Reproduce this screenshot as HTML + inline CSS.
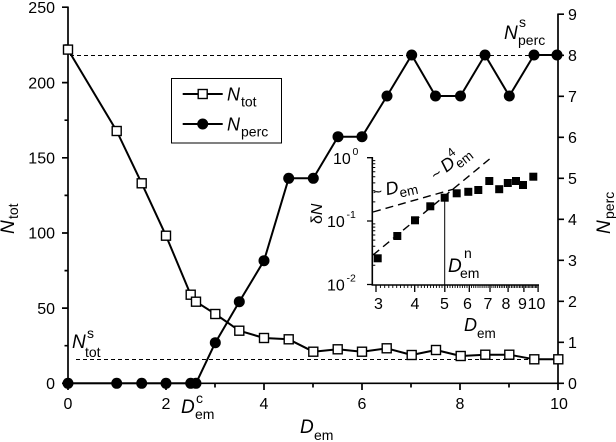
<!DOCTYPE html>
<html><head><meta charset="utf-8"><style>
html,body{margin:0;padding:0;background:#fff;}
svg{display:block;}
text{font-family:"Liberation Sans",Arial,sans-serif;fill:#000;}
.t{font-size:16px;}
.it{font-style:italic;}
</style></head><body>
<svg width="616" height="442" viewBox="0 0 616 442" xmlns="http://www.w3.org/2000/svg">
<rect width="616" height="442" fill="#fff"/>

<!-- dashed saturation lines -->
<line x1="70" y1="55.5" x2="558" y2="55.5" stroke="#000" stroke-width="1.1" stroke-dasharray="4,3"/>
<line x1="76" y1="359.5" x2="558" y2="359.5" stroke="#000" stroke-width="1.1" stroke-dasharray="4,3"/>

<!-- axes -->
<g stroke="#000" stroke-width="1.7" fill="none">
<line x1="68" y1="6.5" x2="68" y2="384"/>
<line x1="67.2" y1="383.3" x2="558.8" y2="383.3"/>
<line x1="558" y1="13.5" x2="558" y2="384"/>
<!-- left ticks -->
<path d="M62,383.3H68M62,308.1H68M62,233H68M62,157.8H68M62,82.6H68M62,7.2H68"/>
<path d="M64.5,345.7H68M64.5,270.6H68M64.5,195.4H68M64.5,120.2H68M64.5,45.1H68"/>
<!-- bottom ticks -->
<path d="M68,383.3V390M166,383.3V390M264,383.3V390M362,383.3V390M460,383.3V390M558,383.3V390"/>
<path d="M117,383.3V387.5M215,383.3V387.5M313,383.3V387.5M411,383.3V387.5M509,383.3V387.5"/>
<!-- right ticks -->
<path d="M558,383.3H564M558,342.3H564M558,301.3H564M558,260.3H564M558,219.3H564M558,178.3H564M558,137.3H564M558,96.3H564M558,55.3H564M558,14.2H564"/>
</g>

<!-- left tick labels -->
<g class="t" text-anchor="end">
<text x="55" y="389">0</text>
<text x="55" y="313.8">50</text>
<text x="55" y="238.7">100</text>
<text x="55" y="163.5">150</text>
<text x="55" y="88.3">200</text>
<text x="55" y="13">250</text>
</g>
<!-- bottom tick labels -->
<g class="t" text-anchor="middle">
<text x="68" y="409">0</text>
<text x="166" y="409">2</text>
<text x="264" y="409">4</text>
<text x="362" y="409">6</text>
<text x="460" y="409">8</text>
<text x="559" y="409">10</text>
</g>
<!-- right tick labels -->
<g class="t">
<text x="568" y="389">0</text>
<text x="568" y="348">1</text>
<text x="568" y="307">2</text>
<text x="568" y="266">3</text>
<text x="568" y="225">4</text>
<text x="568" y="184">5</text>
<text x="568" y="143">6</text>
<text x="568" y="102">7</text>
<text x="568" y="61">8</text>
<text x="568" y="20">9</text>
</g>

<!-- axis titles -->
<text x="300" y="433" font-size="19" class="it">D</text>
<text x="314" y="440" font-size="14">em</text>

<g transform="translate(14,234) rotate(-90)">
<text x="0" y="0" font-size="19" class="it">N</text>
<text x="15" y="4" font-size="14">tot</text>
</g>
<g transform="translate(610,234) rotate(-90)">
<text x="0" y="0" font-size="19" class="it">N</text>
<text x="15" y="4" font-size="14">perc</text>
</g>

<!-- series lines -->
<path d="M68,49.6 L116.7,131 L141.7,183.3 L166,235.7 L190.7,294.7 L196,301.7 L215.3,314 L239.3,330.7 L264,338 L288.7,339.3 L313.3,351.7 L337.7,349.3 L362,351.7 L386.7,348.3 L411.7,355 L436,350 L460.7,356 L485.3,354.7 L509.3,354.7 L534.3,359.3 L558.3,359.3" fill="none" stroke="#000" stroke-width="2" stroke-linejoin="round"/>
<path d="M68,383.3 L196,383.3 L215.3,342.7 L239.3,301.7 L264,260.7 L288.7,178.3 L313.3,178.3 L338,136.7 L362,136.7 L387,96 L411.7,55 L435.5,96 L460.5,96 L485,55 L509.3,96 L534,55 L557,55" fill="none" stroke="#000" stroke-width="2" stroke-linejoin="round"/>

<!-- open squares -->
<g fill="#fff" stroke="#000" stroke-width="1.4">
<rect x="63.5" y="45.1" width="9" height="9"/>
<rect x="112.2" y="126.5" width="9" height="9"/>
<rect x="137.2" y="178.8" width="9" height="9"/>
<rect x="161.5" y="231.2" width="9" height="9"/>
<rect x="186.2" y="290.2" width="9" height="9"/>
<rect x="191.5" y="297.2" width="9" height="9"/>
<rect x="210.8" y="309.5" width="9" height="9"/>
<rect x="234.8" y="326.2" width="9" height="9"/>
<rect x="259.5" y="333.5" width="9" height="9"/>
<rect x="284.2" y="334.8" width="9" height="9"/>
<rect x="308.8" y="347.2" width="9" height="9"/>
<rect x="333.2" y="344.8" width="9" height="9"/>
<rect x="357.5" y="347.2" width="9" height="9"/>
<rect x="382.2" y="343.8" width="9" height="9"/>
<rect x="407.2" y="350.5" width="9" height="9"/>
<rect x="431.5" y="345.5" width="9" height="9"/>
<rect x="456.2" y="351.5" width="9" height="9"/>
<rect x="480.8" y="350.2" width="9" height="9"/>
<rect x="504.8" y="350.2" width="9" height="9"/>
<rect x="529.8" y="354.8" width="9" height="9"/>
<rect x="553.8" y="354.8" width="9" height="9"/>
</g>

<!-- filled circles -->
<g fill="#000">
<circle cx="68" cy="383.3" r="5.5"/>
<circle cx="116.7" cy="383.3" r="5.5"/>
<circle cx="141.7" cy="383.3" r="5.5"/>
<circle cx="166" cy="383.3" r="5.5"/>
<circle cx="190.7" cy="383.3" r="5.5"/>
<circle cx="196" cy="383.3" r="5.5"/>
<circle cx="215.3" cy="342.7" r="5.5"/>
<circle cx="239.3" cy="301.7" r="5.5"/>
<circle cx="264" cy="260.7" r="5.5"/>
<circle cx="288.7" cy="178.3" r="5.5"/>
<circle cx="313.3" cy="178.3" r="5.5"/>
<circle cx="338" cy="136.7" r="5.5"/>
<circle cx="362" cy="136.7" r="5.5"/>
<circle cx="387" cy="96" r="5.5"/>
<circle cx="411.7" cy="55" r="5.5"/>
<circle cx="435.5" cy="96" r="5.5"/>
<circle cx="460.5" cy="96" r="5.5"/>
<circle cx="485" cy="55" r="5.5"/>
<circle cx="509.3" cy="96" r="5.5"/>
<circle cx="534" cy="55" r="5.5"/>
<circle cx="557" cy="55" r="5.5"/>
</g>

<!-- legend -->
<rect x="171.5" y="78.5" width="110" height="64.5" fill="#fff" stroke="#000" stroke-width="1"/>
<line x1="182.7" y1="94" x2="222.7" y2="94" stroke="#000" stroke-width="2"/>
<rect x="198.2" y="89.5" width="9" height="9" fill="#fff" stroke="#000" stroke-width="1.4"/>
<line x1="182.7" y1="124" x2="222.7" y2="124" stroke="#000" stroke-width="2"/>
<circle cx="202.7" cy="124" r="5.5" fill="#000"/>
<text x="227" y="100.5" font-size="18" class="it">N</text>
<text x="241" y="106.5" font-size="14">tot</text>
<text x="227" y="130.5" font-size="18" class="it">N</text>
<text x="241" y="136.5" font-size="14">perc</text>

<!-- saturation labels -->
<text x="72" y="348" font-size="19" class="it">N</text>
<text x="87" y="338" font-size="14">s</text>
<text x="85" y="357" font-size="14">tot</text>

<text x="504" y="39" font-size="19" class="it">N</text>
<text x="519" y="27" font-size="14">s</text>
<text x="518" y="45" font-size="14">perc</text>

<!-- D_em^c -->
<text x="181" y="413" font-size="19" class="it">D</text>
<text x="196" y="403" font-size="14">c</text>
<text x="195" y="419" font-size="14">em</text>

<!-- ================= INSET ================= -->
<line x1="373" y1="212" x2="454" y2="189" stroke="#000" stroke-width="1.4" stroke-dasharray="8,5"/>
<line x1="373" y1="255" x2="492" y2="157" stroke="#000" stroke-width="1.4" stroke-dasharray="8,5"/>
<line x1="444.7" y1="284.5" x2="444.7" y2="200" stroke="#000" stroke-width="1"/>

<g stroke="#000" fill="none">
<line x1="372.3" y1="157" x2="372.3" y2="285.5" stroke-width="1.6"/>
<line x1="371.5" y1="285" x2="539" y2="285" stroke-width="1.6"/>
<path d="M367,284.5H372.3M367,221H372.3M367,157.7H372.3" stroke-width="1.3"/>
<path d="M372.3,265.2h3M372.3,254.1h3M372.3,246.2h3M372.3,240.1h3M372.3,235h3M372.3,230.8h3M372.3,227.1h3M372.3,223.9h3M372.3,201.9h3M372.3,190.8h3M372.3,182.9h3M372.3,176.8h3M372.3,171.7h3M372.3,167.5h3M372.3,163.8h3M372.3,160.6h3" stroke-width="1"/>
<path d="M376,285V292M414.7,285V292M444.8,285V292M469.3,285V292M490,285V292M508.1,285V292M523.9,285V292M538.1,285V292" stroke-width="1.3"/>
<path d="M380.4,285v3M384.7,285v3M388.8,285v3M392.8,285v3M396.7,285v3M400.5,285v3M404.2,285v3M407.8,285v3M411.3,285v3M418,285v3M421.3,285v3M424.4,285v3M427.5,285v3M430.6,285v3M433.5,285v3M436.4,285v3M439.3,285v3M442,285v3M447.4,285v3M450,285v3M452.6,285v3M455.1,285v3M457.6,285v3M460,285v3M462.4,285v3M464.7,285v3M467,285v3M471.5,285v3M473.7,285v3M475.8,285v3M478,285v3M480,285v3M482.1,285v3M484.1,285v3M486.1,285v3M488.1,285v3M491.9,285v3M493.9,285v3M495.7,285v3M497.6,285v3M499.4,285v3M501.2,285v3M502.9,285v3M504.6,285v3M506.4,285v3M509.7,285v3M511.4,285v3M513,285v3M514.6,285v3M516.2,285v3M517.8,285v3M519.4,285v3M520.9,285v3M522.4,285v3M525.4,285v3M526.9,285v3M528.3,285v3M529.8,285v3M531.2,285v3M532.6,285v3M534,285v3M535.4,285v3M536.7,285v3" stroke-width="0.9"/>
</g>

<!-- inset y labels -->
<text x="333" y="164" class="t">10</text><text x="352.5" y="155" font-size="10.5">0</text>
<text x="327" y="227" class="t">10</text><text x="346.5" y="218" font-size="10.5">-1</text>
<text x="327" y="290.5" class="t">10</text><text x="346.5" y="281.5" font-size="10.5">-2</text>

<!-- inset x labels -->
<g class="t" text-anchor="middle">
<text x="378.5" y="309">3</text>
<text x="415" y="309">4</text>
<text x="444.5" y="309">5</text>
<text x="467.5" y="309">6</text>
<text x="488" y="309">7</text>
<text x="506" y="309">8</text>
<text x="522.5" y="309">9</text>
<text x="536.5" y="309">10</text>
</g>
<text x="464" y="331" font-size="18" class="it">D</text>
<text x="477" y="338" font-size="13.5">em</text>

<g transform="translate(322,224) rotate(-90)">
<text x="0" y="0" font-size="16">δ<tspan class="it">N</tspan></text>
</g>

<!-- inset squares -->
<g fill="#000">
<rect x="373.7" y="254.3" width="8" height="8"/>
<rect x="393.3" y="232" width="8" height="8"/>
<rect x="411" y="216.3" width="8" height="8"/>
<rect x="426.3" y="202.3" width="8" height="8"/>
<rect x="440.7" y="193.7" width="8" height="8"/>
<rect x="452.7" y="189.3" width="8" height="8"/>
<rect x="464.3" y="187.8" width="8" height="8"/>
<rect x="474.3" y="186" width="8" height="8"/>
<rect x="485.3" y="177" width="8" height="8"/>
<rect x="495.2" y="185.2" width="8" height="8"/>
<rect x="503.8" y="179" width="8" height="8"/>
<rect x="512" y="177" width="8" height="8"/>
<rect x="519" y="181" width="8" height="8"/>
<rect x="529.3" y="172.7" width="8" height="8"/>
</g>

<!-- inset annotations -->
<g transform="translate(374,198) rotate(-12)">
<text x="0" y="0" font-size="16">~</text>
<text x="13" y="0" font-size="18" class="it">D</text>
<text x="26" y="5" font-size="13.5">em</text>
</g>
<g transform="translate(436,181) rotate(-38)">
<text x="0" y="0" font-size="16">~</text>
<text x="13" y="0" font-size="18" class="it">D</text>
<text x="26" y="5" font-size="13.5">em</text>
<text x="26" y="-9" font-size="12.5">4</text>
</g>

<text x="448" y="272" font-size="19" class="it">D</text>
<text x="464" y="258" font-size="14">n</text>
<text x="460" y="278" font-size="14">em</text>

</svg>
</body></html>
